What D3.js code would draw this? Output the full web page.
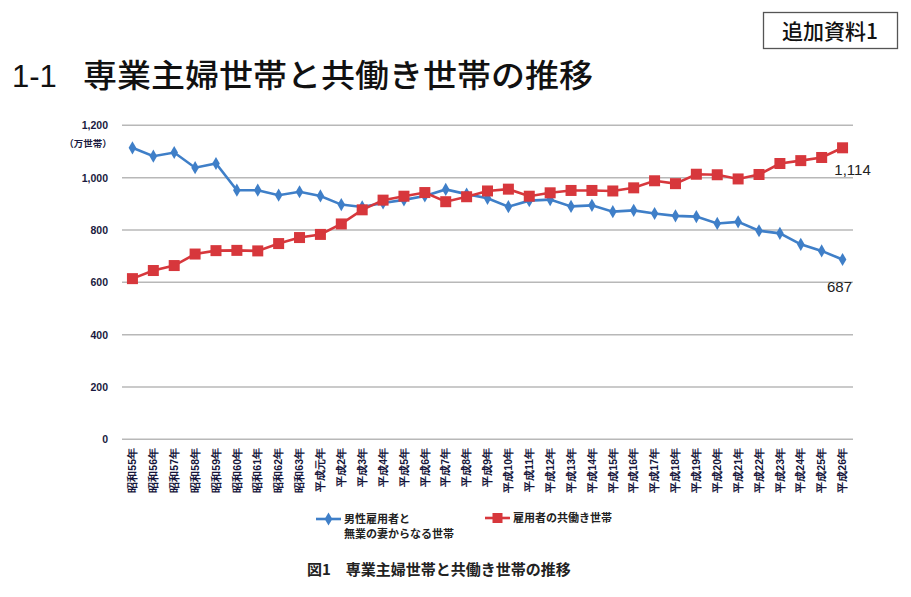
<!DOCTYPE html>
<html><head><meta charset="utf-8">
<script src="https://cdn.jsdelivr.net/npm/d3@7"></script>
<style>
html,body{margin:0;padding:0;background:#fff;}
svg{display:block;font-family:"Noto Sans CJK JP","Noto Sans",sans-serif;}
</style></head>
<body>
<svg id="c" width="911" height="597"></svg>
<script>
const categories = ["昭和55年","昭和56年","昭和57年","昭和58年","昭和59年","昭和60年","昭和61年","昭和62年","昭和63年","平成元年",
"平成2年","平成3年","平成4年","平成5年","平成6年","平成7年","平成8年","平成9年","平成10年","平成11年","平成12年","平成13年",
"平成14年","平成15年","平成16年","平成17年","平成18年","平成19年","平成20年","平成21年","平成22年","平成23年","平成24年","平成25年","平成26年"];
const housewife = [1114,1082,1096,1038,1054,952,952,933,946,930,897,888,903,915,930,955,937,921,889,912,916,890,894,870,875,863,854,851,825,831,797,787,745,720,687];
const dual = [614,645,664,708,721,722,720,748,771,783,823,877,914,929,943,908,927,949,956,929,942,951,951,949,961,988,977,1013,1011,995,1012,1054,1065,1077,1114];
const yTicks = [0,200,400,600,800,1000,1200];
const seriesNames = [["男性雇用者と","無業の妻からなる世帯"],["雇用者の共働き世帯"]];
const blue = "#3f7fc8", red = "#d7373c";

const svg = d3.select("#c");
// header box
svg.append("rect").attr("x",763.5).attr("y",12.5).attr("width",134).attr("height",36)
  .attr("fill","#fff").attr("stroke","#555").attr("stroke-width",1.3);
svg.append("text").attr("x",830).attr("y",39).attr("text-anchor","middle")
  .attr("font-size",21).attr("font-weight",500).attr("fill","#111").text("追加資料1");
// title
svg.append("text").attr("x",12).attr("y",87).attr("font-size",31).attr("font-weight",500)
  .attr("fill","#111").attr("font-family","'Liberation Sans','Noto Sans',sans-serif").text("1-1");
svg.append("text").attr("x",83).attr("y",87).attr("font-size",32).attr("font-weight",500)
  .attr("fill","#111").attr("textLength",510).attr("lengthAdjust","spacingAndGlyphs").text("専業主婦世帯と共働き世帯の推移");

const x = d3.scaleBand().domain(categories).range([122,853]);
const y = d3.scaleLinear().domain([0,1200]).range([439.3,125.3]);

// gridlines
svg.append("g").selectAll("line").data(yTicks).join("line")
  .attr("x1",122).attr("x2",853).attr("y1",d=>y(d)).attr("y2",d=>y(d))
  .attr("stroke","#b8b8b8").attr("stroke-width",1.5);

// y axis labels
const yAxis = d3.axisLeft(y).tickValues(yTicks).tickFormat(d3.format(",")).tickSize(0).tickPadding(0);
const gy = svg.append("g").attr("transform","translate(108,0)").call(yAxis);
gy.select(".domain").remove();
gy.selectAll("text").attr("font-size",10.5).attr("font-weight",600).attr("fill","#1a1a40")
  .attr("font-family","'Liberation Sans',Arial,sans-serif");
svg.append("text").attr("x",88).attr("y",147).attr("text-anchor","middle").attr("font-size",9.5)
  .attr("font-weight",600).attr("fill","#1a1a40").text("（万世帯）");

// x axis labels
const xAxis = d3.axisBottom(x).tickSize(0).tickPadding(0);
const gx = svg.append("g").attr("transform","translate(0,446)").call(xAxis);
gx.select(".domain").remove();
gx.selectAll("text").attr("font-size",10.5).attr("fill","#15153a").attr("font-weight",600)
  .attr("text-anchor","end").attr("dy","0.35em")
  .attr("transform","rotate(-90)").attr("x",-2).attr("y",0);

const line = d3.line().x((d,i)=>x(categories[i])+x.bandwidth()/2).y(d=>y(d));
svg.append("path").datum(housewife).attr("d",line).attr("fill","none").attr("stroke",blue).attr("stroke-width",2.6);
svg.append("path").datum(dual).attr("d",line).attr("fill","none").attr("stroke",red).attr("stroke-width",2.6);
const dsym = d3.symbol().type(d3.symbolDiamond).size(50);
svg.append("g").selectAll("path").data(housewife).join("path")
  .attr("d",dsym).attr("fill",blue)
  .attr("transform",(d,i)=>`translate(${x(categories[i])+x.bandwidth()/2},${y(d)})`);
svg.append("g").selectAll("rect").data(dual).join("rect")
  .attr("width",11).attr("height",11).attr("fill",red)
  .attr("x",(d,i)=>x(categories[i])+x.bandwidth()/2-5.5).attr("y",d=>y(d)-5.5);

// data labels
const lastI = categories.length-1;
svg.append("text").attr("x",x(categories[lastI])+x.bandwidth()/2+10).attr("y",y(dual[lastI])+27)
  .attr("text-anchor","middle").attr("font-size",15).attr("fill","#222")
  .attr("font-family","'Liberation Sans',Arial,sans-serif").text(d3.format(",")(dual[lastI]));
svg.append("text").attr("x",x(categories[lastI])+x.bandwidth()/2-3).attr("y",y(housewife[lastI])+32)
  .attr("text-anchor","middle").attr("font-size",15).attr("fill","#222")
  .attr("font-family","'Liberation Sans',Arial,sans-serif").text(d3.format(",")(housewife[lastI]));

// legend
const lg = svg.append("g");
lg.append("line").attr("x1",316).attr("x2",341).attr("y1",519).attr("y2",519).attr("stroke",blue).attr("stroke-width",2.6);
lg.append("path").attr("d",dsym).attr("fill",blue).attr("transform","translate(328.5,519)");
lg.append("text").attr("x",344).attr("y",523).attr("font-size",11).attr("font-weight",600).attr("fill","#222").text(seriesNames[0][0]);
lg.append("text").attr("x",344).attr("y",538).attr("font-size",11).attr("font-weight",600).attr("fill","#222").text(seriesNames[0][1]);
lg.append("line").attr("x1",485).attr("x2",510).attr("y1",518).attr("y2",518).attr("stroke",red).attr("stroke-width",2.6);
lg.append("rect").attr("x",492.5).attr("y",513).attr("width",10).attr("height",10).attr("fill",red);
lg.append("text").attr("x",513).attr("y",522).attr("font-size",11).attr("font-weight",600).attr("fill","#222").text(seriesNames[1][0]);

// caption
svg.append("text").attr("x",307).attr("y",575).attr("font-size",15).attr("font-weight",700).attr("fill","#222")
  .text("図1　専業主婦世帯と共働き世帯の推移");
</script>
</body></html>
